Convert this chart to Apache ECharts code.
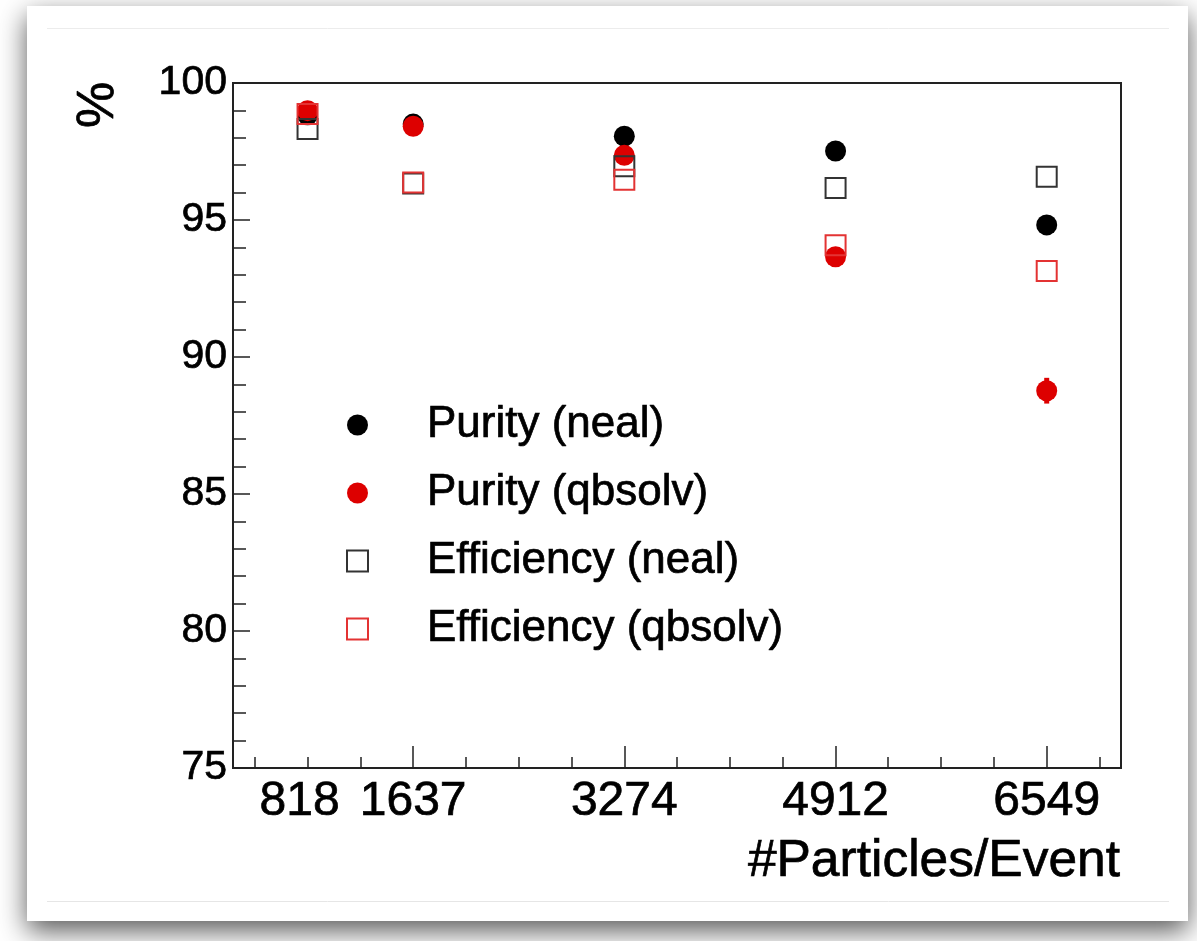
<!DOCTYPE html>
<html>
<head>
<meta charset="utf-8">
<title>Purity and efficiency vs particles per event</title>
<script src="https://cdn.jsdelivr.net/npm/echarts@6/dist/echarts.min.js"></script>
<style>
  html, body { margin: 0; padding: 0; background: #ffffff; }
  #chart { width: 1197px; height: 941px; }
</style>
</head>
<body>
<div id="chart"></div>
<script>
// Particles per event (x positions of the measurements)
const particles = [818, 1637, 3274, 4912, 6549];

// Purity and efficiency in percent
const purityNeal = [98.84, 98.50, 98.06, 97.52, 94.82];
const purityQbsolv = [98.99, 98.42, 97.36, 93.66, 88.77];
const purityQbsolvErr = [0.05, 0.08, 0.10, 0.12, 0.47];
const efficiencyNeal = [98.32, 96.33, 96.96, 96.17, 96.58];
const efficiencyQbsolv = [98.87, 96.37, 96.47, 94.08, 93.14];

// Axis tick labels
const xTickLabels = [818, 1637, 3274, 4912, 6549];
const xMajorTicks = [1637, 3274, 4912, 6549];
const yTickLabels = [75, 80, 85, 90, 95, 100];

const FONT = '"Liberation Sans", Arial, Helvetica, sans-serif';
const INK = { color: '#000', textBorderColor: '#000', textBorderWidth: 0.7 };

// minor x ticks every quarter of the 1637 step
const xMinorStep = 1637 / 4;
const xMinorTicks = [];
for (let k = 1; k * xMinorStep < 7125; k++) xMinorTicks.push(k * xMinorStep);

const pairs = (ys) => particles.map((x, i) => [x, ys[i]]);

const chart = echarts.init(document.getElementById('chart'), null, { renderer: 'canvas' });

const option = {
  animation: false,
  backgroundColor: '#ffffff',
  graphic: [
    { type: 'rect', z: -100, shape: { x: 27, y: 6, width: 1161, height: 915 },
      style: { fill: '#ffffff', shadowBlur: 26, shadowOffsetY: 10, shadowColor: 'rgba(0,0,0,0.65)' } },
    { type: 'line', z: -50, shape: { x1: 47, y1: 28.5, x2: 1169, y2: 28.5 },
      style: { stroke: '#ececec', lineWidth: 1 } },
    { type: 'line', z: -50, shape: { x1: 47, y1: 901.5, x2: 1169, y2: 901.5 },
      style: { stroke: '#e6e6e6', lineWidth: 1 } },
    { type: 'text', x: 99, y: 105, rotation: Math.PI / 2,
      style: { text: '%', fontSize: 52, fontFamily: FONT, fill: '#000', stroke: '#000', lineWidth: 0.7,
        align: 'center', verticalAlign: 'middle' } },
    { type: 'text', x: 1120, y: 862,
      style: { text: '#Particles/Event', fontSize: 51.5, fontFamily: FONT, fill: '#000', stroke: '#000', lineWidth: 0.7,
        align: 'right', verticalAlign: 'middle' } }
  ],
  grid: {
    left: 233, right: 76, top: 83, bottom: 173,
    show: true, borderColor: '#222', borderWidth: 2, backgroundColor: 'transparent'
  },
  legend: {
    orient: 'vertical',
    left: 346, top: 401,
    padding: 0,
    itemWidth: 21, itemHeight: 21,
    itemGap: 20,
    textStyle: Object.assign({ fontSize: 44, fontFamily: FONT, lineHeight: 48, padding: [0, 0, 0, 54] }, INK),
    data: ['Purity (neal)', 'Purity (qbsolv)', 'Efficiency (neal)', 'Efficiency (qbsolv)']
  },
  xAxis: [
    {
      type: 'value', min: 240, max: 7125,
      axisLine: { show: true, lineStyle: { color: '#222', width: 2 } },
      axisTick: { show: true, inside: true, length: 22, customValues: xMajorTicks, lineStyle: { color: '#222', width: 1.5 } },
      axisLabel: Object.assign({
        show: true, customValues: xTickLabels, margin: 10,
        fontSize: 48, fontFamily: FONT,
        formatter: (v) => (v === 818 ? '{s|818}' : String(v)),
        rich: { s: Object.assign({ fontSize: 48, fontFamily: FONT, padding: [0, 16, 0, 0] }, INK) }
      }, INK),
      splitLine: { show: false }
    },
    {
      type: 'value', min: 240, max: 7125, position: 'bottom',
      axisLine: { show: false },
      axisTick: { show: true, inside: true, length: 11, customValues: xMinorTicks, lineStyle: { color: '#222', width: 1.5 } },
      axisLabel: { show: false },
      splitLine: { show: false }
    }
  ],
  yAxis: {
    type: 'value', min: 75, max: 100, interval: 5,
    axisLine: { show: true, lineStyle: { color: '#222', width: 2 } },
    axisTick: { show: true, inside: true, length: 17, lineStyle: { color: '#222', width: 1.5 } },
    minorTick: { show: true, splitNumber: 5, length: 13, lineStyle: { color: '#222', width: 1.5 } },
    axisLabel: Object.assign({
      margin: 6, fontSize: 41, fontFamily: FONT,
      formatter: (v) => (yTickLabels.includes(v) ? String(v) : '')
    }, INK),
    splitLine: { show: false },
    minorSplitLine: { show: false }
  },
  series: [
    {
      name: 'Purity (neal)', type: 'scatter', z: 3,
      symbol: 'circle', symbolSize: 21,
      itemStyle: { color: '#000000', opacity: 1 },
      data: pairs(purityNeal)
    },
    {
      name: 'qbsolv purity error', type: 'custom', z: 4,
      renderItem: (params, api) => {
        const x = api.value(0), y = api.value(1), e = api.value(2);
        const p1 = api.coord([x, y - e]);
        const p2 = api.coord([x, y + e]);
        return { type: 'line', shape: { x1: p1[0], y1: p1[1], x2: p2[0], y2: p2[1] },
          style: { stroke: '#dd0000', lineWidth: 5 } };
      },
      data: particles.map((x, i) => [x, purityQbsolv[i], purityQbsolvErr[i]])
    },
    {
      name: 'Purity (qbsolv)', type: 'scatter', z: 5,
      symbol: 'circle', symbolSize: 21,
      itemStyle: { color: '#dd0000', opacity: 1 },
      data: pairs(purityQbsolv)
    },
    {
      name: 'Efficiency (neal)', type: 'scatter', z: 6,
      symbol: 'rect', symbolSize: 20,
      itemStyle: { color: 'transparent', borderColor: '#333333', borderWidth: 2, opacity: 1 },
      data: pairs(efficiencyNeal)
    },
    {
      name: 'Efficiency (qbsolv)', type: 'scatter', z: 7,
      symbol: 'rect', symbolSize: 20,
      itemStyle: { color: 'transparent', borderColor: '#e33333', borderWidth: 2, opacity: 1 },
      data: pairs(efficiencyQbsolv)
    }
  ]
};

chart.setOption(option);
</script>
</body>
</html>
